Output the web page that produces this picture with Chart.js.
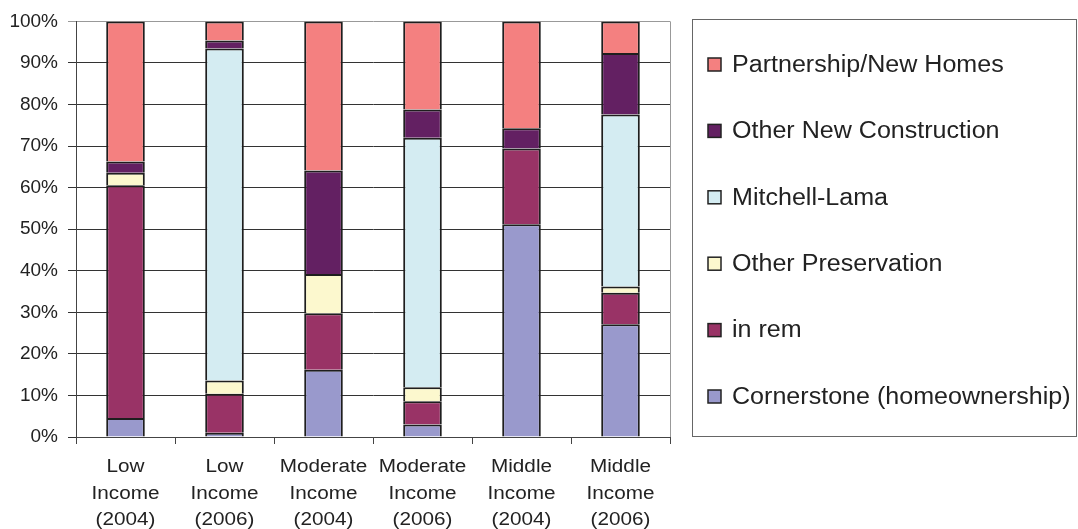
<!DOCTYPE html>
<html>
<head>
<meta charset="utf-8">
<script src="https://cdn.jsdelivr.net/npm/chart.js@4/dist/chart.umd.min.js"></script>
<style>
  html, body { margin: 0; padding: 0; background: #fff; }
  #wrap { width: 1078px; height: 529px; position: relative; }
</style>
</head>
<body>
<div id="wrap"><canvas id="c" width="1078" height="529"></canvas></div>
<script>
// Income bands by year (multi-line axis labels)
const categories = [
  ['Low', 'Income', '(2004)'],
  ['Low', 'Income', '(2006)'],
  ['Moderate', 'Income', '(2004)'],
  ['Moderate', 'Income', '(2006)'],
  ['Middle', 'Income', '(2004)'],
  ['Middle', 'Income', '(2006)']
];

// Share of units by program, percent of each band (stacked bottom to top)
const cornerstone       = [4.6, 1.0, 16.2, 3.0, 51.2, 27.1];
const inRem             = [56.0, 9.4, 13.6, 5.6, 18.2, 7.6];
const otherPreservation = [3.0, 3.2, 9.4, 3.4, 0, 1.5];
const mitchellLama      = [0, 79.9, 0, 60.0, 0, 41.4];
const otherNewConstr    = [2.7, 1.9, 24.9, 6.8, 4.9, 14.8];
const partnership       = [33.7, 4.6, 35.9, 21.2, 25.7, 7.6];

const yTicks = [0, 10, 20, 30, 40, 50, 60, 70, 80, 90, 100];

const seriesNames = [
  'Cornerstone (homeownership)',
  'in rem',
  'Other Preservation',
  'Mitchell-Lama',
  'Other New Construction',
  'Partnership/New Homes'
];
const seriesColors = ['#9999CC', '#993366', '#FCF8CE', '#D4ECF2', '#632062', '#F48080'];
const seriesValues = [cornerstone, inRem, otherPreservation, mitchellLama, otherNewConstr, partnership];

const datasets = seriesNames.map((name, i) => ({
  label: name,
  data: seriesValues[i],
  backgroundColor: seriesColors[i],
  borderColor: '#1e1e1e',
  borderWidth: 2,
  borderSkipped: 'start',
  inflateAmount: 0,
  categoryPercentage: 1.0,
  barPercentage: 0.39
}));

// Multi-line category labels under the x axis (slightly wide lettering)
const categoryLabels = {
  id: 'categoryLabels',
  afterDraw(chart) {
    const ctx = chart.ctx;
    const xs = chart.scales.x;
    const base = chart.chartArea.bottom;
    ctx.save();
    ctx.font = '18px "Liberation Sans", Arial, sans-serif';
    ctx.fillStyle = '#222';
    ctx.textAlign = 'center';
    ctx.textBaseline = 'alphabetic';
    chart.data.labels.forEach((lines, i) => {
      const cx = xs.getPixelForValue(i);
      lines.forEach((line, j) => {
        ctx.save();
        ctx.translate(cx, base + 35 + j * 26.5);
        ctx.scale(1.15, 1);
        ctx.fillText(line, 0, 0);
        ctx.restore();
      });
    });
    ctx.restore();
  }
};

// Boxed legend on the right, top series first
const boxedLegend = {
  id: 'boxedLegend',
  afterDraw(chart) {
    const ctx = chart.ctx;
    ctx.save();
    // plot frame right edge
    const a = chart.chartArea;
    ctx.strokeStyle = '#999';
    ctx.lineWidth = 1;
    ctx.beginPath();
    ctx.moveTo(Math.round(a.right) + 0.5, a.top);
    ctx.lineTo(Math.round(a.right) + 0.5, a.bottom);
    ctx.stroke();

    // legend frame
    ctx.strokeStyle = '#666';
    ctx.lineWidth = 1;
    ctx.strokeRect(692.5, 19.5, 384, 417);

    const n = chart.data.datasets.length;
    ctx.font = '23px "Liberation Sans", Arial, sans-serif';
    ctx.textBaseline = 'middle';
    for (let k = 0; k < n; k++) {
      const ds = chart.data.datasets[n - 1 - k];
      const cy = 64.5 + k * 66.4;
      ctx.fillStyle = ds.backgroundColor;
      ctx.fillRect(708, cy - 6.5, 13, 13);
      ctx.strokeStyle = '#222';
      ctx.lineWidth = 1.5;
      ctx.strokeRect(708, cy - 6.5, 13, 13);
      ctx.fillStyle = '#222';
      ctx.save();
      ctx.translate(732, cy);
      ctx.scale(1.09, 1);
      ctx.fillText(ds.label, 0, 1);
      ctx.restore();
    }
    ctx.restore();
  }
};

new Chart(document.getElementById('c'), {
  type: 'bar',
  data: { labels: categories, datasets },
  plugins: [categoryLabels, boxedLegend],
  options: {
    responsive: false,
    animation: false,
    layout: { padding: { left: 0, top: 20, right: 408, bottom: 0 } },
    plugins: {
      legend: { display: false },
      tooltip: { enabled: false }
    },
    scales: {
      x: {
        stacked: true,
        afterFit(s) { s.height = 92; },
        grid: {
          offset: true,
          drawOnChartArea: false,
          drawTicks: true,
          tickLength: 7,
          color: '#444',
          lineWidth: 1
        },
        border: { color: '#444', width: 1 },
        ticks: { display: false }
      },
      y: {
        stacked: true,
        min: 0,
        max: 100,
        afterFit(s) { s.width = 76; },
        afterBuildTicks(s) { s.ticks = yTicks.map(v => ({ value: v })); },
        grid: {
          color: (c) => (c.tick && c.tick.value === 100 ? '#999' : '#333'),
          lineWidth: 1,
          tickLength: 8,
          drawTicks: true
        },
        border: { color: '#444', width: 1 },
        ticks: {
          color: '#222',
          padding: 10,
          font: { family: '"Liberation Sans", Arial, sans-serif', size: 19 },
          callback: (v) => v + '%'
        }
      }
    }
  }
});
</script>
</body>
</html>
